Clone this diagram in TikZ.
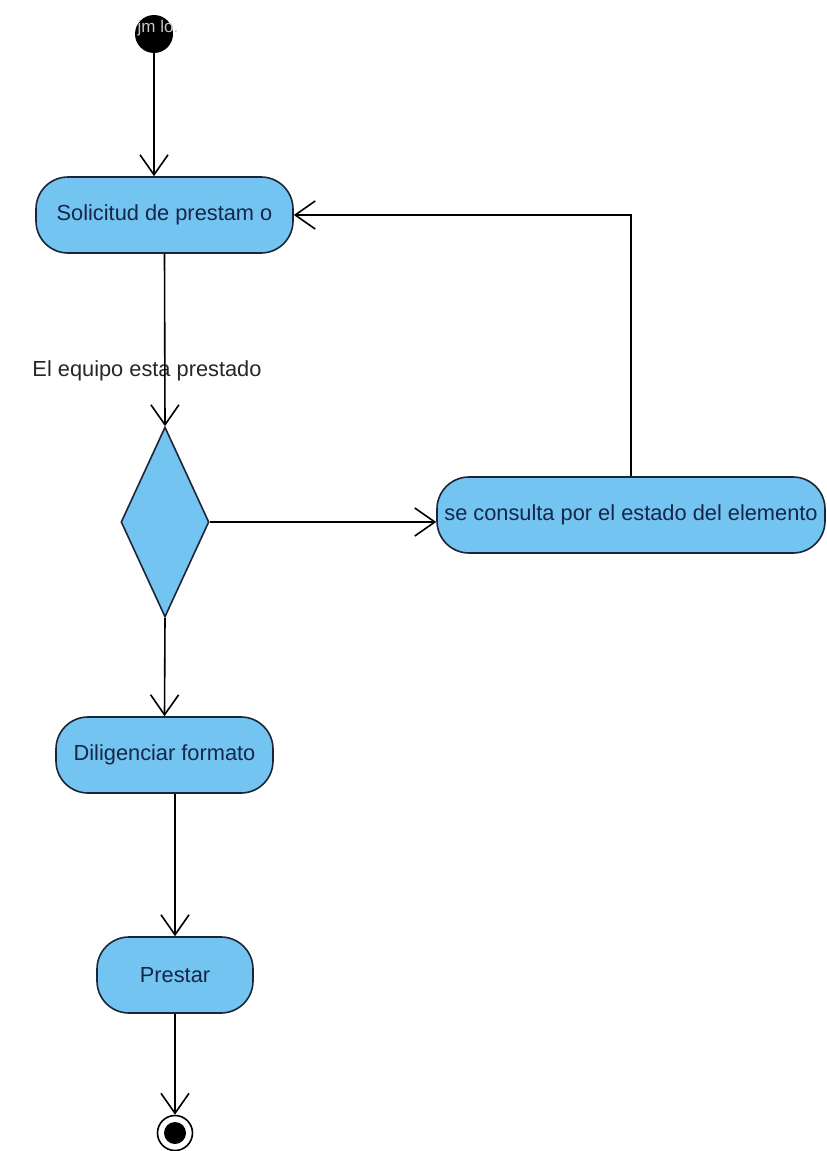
\documentclass[tikz,border=0pt]{standalone}
\usepackage{fontspec}
\setmainfont{Liberation Sans}
\usetikzlibrary{arrows.meta,shapes.geometric}
\definecolor{azulact}{RGB}{115,196,240}
\definecolor{bordeact}{RGB}{28,36,56}
\definecolor{textoact}{RGB}{22,38,72}
\tikzset{
    actividad/.style={draw=bordeact, fill=azulact, line width=1.6pt, rounded corners=32pt,
        minimum height=76pt, inner sep=0pt, text=textoact, font=\fontsize{21.8}{26}\selectfont},
    decision/.style={diamond, draw=bordeact, fill=azulact, line width=1.6pt,
        minimum width=88pt, minimum height=190pt, inner sep=0pt},
    flecha/.style={line width=1.6pt, -{Straight Barb[length=20pt,width=28pt,line width=1.6pt]}}
}
\begin{document}
\begin{tikzpicture}[x=1pt, y=-1pt]
                    % \helpgrid{3}{3}
                    \useasboundingbox (0,0) rectangle (827,1151);
                    \node [circle, fill=black, minimum size=38pt, inner sep=0pt] (inicio) at (154,34) {};
                    \node [text=gray!45, font=\fontsize{17}{17}\selectfont] (nota) at (158,28) {jm lo.};
                    \node [actividad, minimum width=257pt] (sol) at (164.5,215) {Solicitud de prestam o};
                    \node [font=\fontsize{21.8}{26}\selectfont, text=black!85] (guarda) at (147,371) {El equipo esta prestado};
                    \node [decision] (dec) at (165,522) {};
                    \node [actividad, minimum width=388pt] (cons) at (631,515) {se consulta por el estado del elemento};
                    \node [actividad, minimum width=217pt] (dil) at (164.5,755) {Diligenciar formato};
                    \node [actividad, minimum width=156pt] (pre) at (175,975) {Prestar};
                    \node [circle, draw=black, line width=1.6pt, minimum size=35pt, inner sep=0pt] (fin) at (175,1133) {};
                    \fill [black] (fin.center) circle (11);
                    \draw [flecha] (inicio) -- (inicio |- sol.north);
                    \draw [flecha] (sol.south) -- (dec.north);
                    \draw [flecha] (dec.east) -- (dec.east -| cons.west);
                    \draw [flecha] (cons.north) |- (sol.east);
                    \draw [flecha] (dec.south) -- (dil.north);
                    \draw [flecha] (pre.north |- dil.south) -- (pre.north);
                    \draw [flecha] (pre.south) -- (fin.north);
                \end{tikzpicture}
\end{document}
